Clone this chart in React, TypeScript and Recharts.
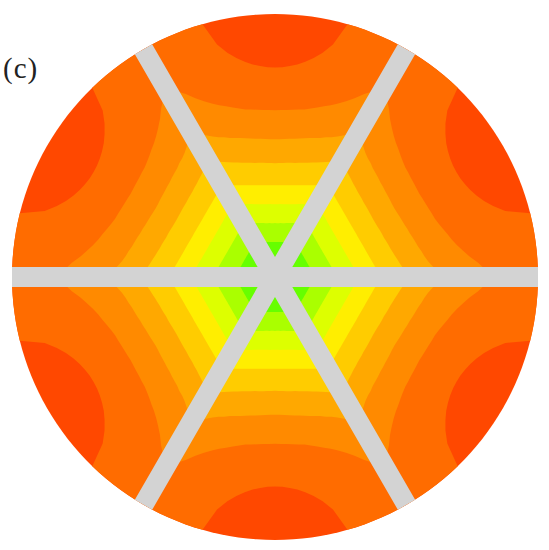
import React from "react";
import { RadarChart, Radar, PolarAngleAxis, PolarRadiusAxis } from "recharts";

const DISK_RADIUS = 263.5;

// Contour radius against the angle from a sector's centre line: 0, 2, 4 ... 30 degrees.
const levelOrange1 = [210, 210.4, 211.8, 214.2, 217.7, 222.9, 229.8, 240, 263.5, 263.5, 263.5, 263.5, 263.5, 263.5, 263.5, 263.5];
const levelOrange2 = [167, 167.3, 167.8, 168.5, 169.5, 170.5, 172.5, 175, 178, 181, 185, 190, 196, 204, 211, 218];
const levelAmber = [138, 138.2, 138.7, 139.3, 140, 141, 142, 143.5, 145, 146.5, 149, 151, 154, 158, 163, 168];
const levelGold = [114, 114.2, 114.5, 115, 115.5, 116, 117, 118, 119, 120.5, 122, 124, 126, 128.5, 131, 134];
const levelYellow = [92, 92.1, 92.2, 92.5, 92.9, 93.4, 94.1, 94.8, 95.7, 96.7, 97.9, 99.2, 100.7, 102.4, 104.2, 106.2];
const levelLime = [73, 73, 73.2, 73.4, 73.7, 74.1, 74.6, 75.2, 75.9, 76.8, 77.7, 78.7, 79.9, 81.2, 82.7, 84.3];
const levelYellowGreen = [54, 54, 54.1, 54.3, 54.5, 54.8, 55.2, 55.7, 56.2, 56.8, 57.5, 58.2, 59.1, 60.1, 61.2, 62.4];
const levelGreen = [35, 35, 35.1, 35.2, 35.3, 35.5, 35.8, 36.1, 36.4, 36.8, 37.2, 37.7, 38.3, 38.9, 39.6, 40.4];

const levels: [string, number[], string][] = [
  ["l1", levelOrange1, "#FF6C00"],
  ["l2", levelOrange2, "#FF8A00"],
  ["l3", levelAmber, "#FFA800"],
  ["l4", levelGold, "#FFCC00"],
  ["l5", levelYellow, "#FFEE00"],
  ["l6", levelLime, "#DDFF00"],
  ["l7", levelYellowGreen, "#AAFF00"],
  ["l8", levelGreen, "#66FF00"],
];

const rows = Array.from({ length: 180 }, (_, i) => {
  const angle = i * 2;
  const inSector = angle % 60;
  const index = Math.abs(inSector - 30) / 2;
  const row: Record<string, number> = {
    angle,
    disk: DISK_RADIUS,
    spoke: inSector === 0 ? DISK_RADIUS : 0,
  };
  levels.forEach(([key, values]) => {
    row[key] = values[index];
  });
  return row;
});

export default function App() {
  return (
    <div style={{ position: "absolute", left: 0, top: 0, width: 549, height: 550 }}>
      <RadarChart
        width={549}
        height={550}
        data={rows}
        cx={275}
        cy={277}
        outerRadius={DISK_RADIUS}
        innerRadius={0}
        startAngle={0}
        endAngle={360}
        margin={{ top: 0, right: 0, bottom: 0, left: 0 }}
      >
        <PolarAngleAxis type="number" domain={[0, 360]} dataKey="angle" tick={false} tickLine={false} axisLine={false} />
        <PolarRadiusAxis domain={[0, DISK_RADIUS]} tick={false} axisLine={false} />
        <Radar dataKey="disk" fill="#FF4800" fillOpacity={1} stroke="none" dot={false} isAnimationActive={false} />
        {levels.map(([key, , color]) => (
          <Radar key={key} dataKey={key} fill={color} fillOpacity={1} stroke="none" dot={false} isAnimationActive={false} />
        ))}
        <Radar
          dataKey="spoke"
          fill="none"
          fillOpacity={0}
          stroke="#D3D3D3"
          strokeWidth={20}
          strokeLinejoin="bevel"
          dot={false}
          isAnimationActive={false}
        />
      </RadarChart>
      <div
        style={{
          position: "absolute",
          left: 3,
          top: 51,
          fontFamily: "'Liberation Serif', serif",
          fontSize: 29,
          lineHeight: "34px",
          letterSpacing: 1,
          color: "#222",
        }}
      >
        (c)
      </div>
    </div>
  );
}
